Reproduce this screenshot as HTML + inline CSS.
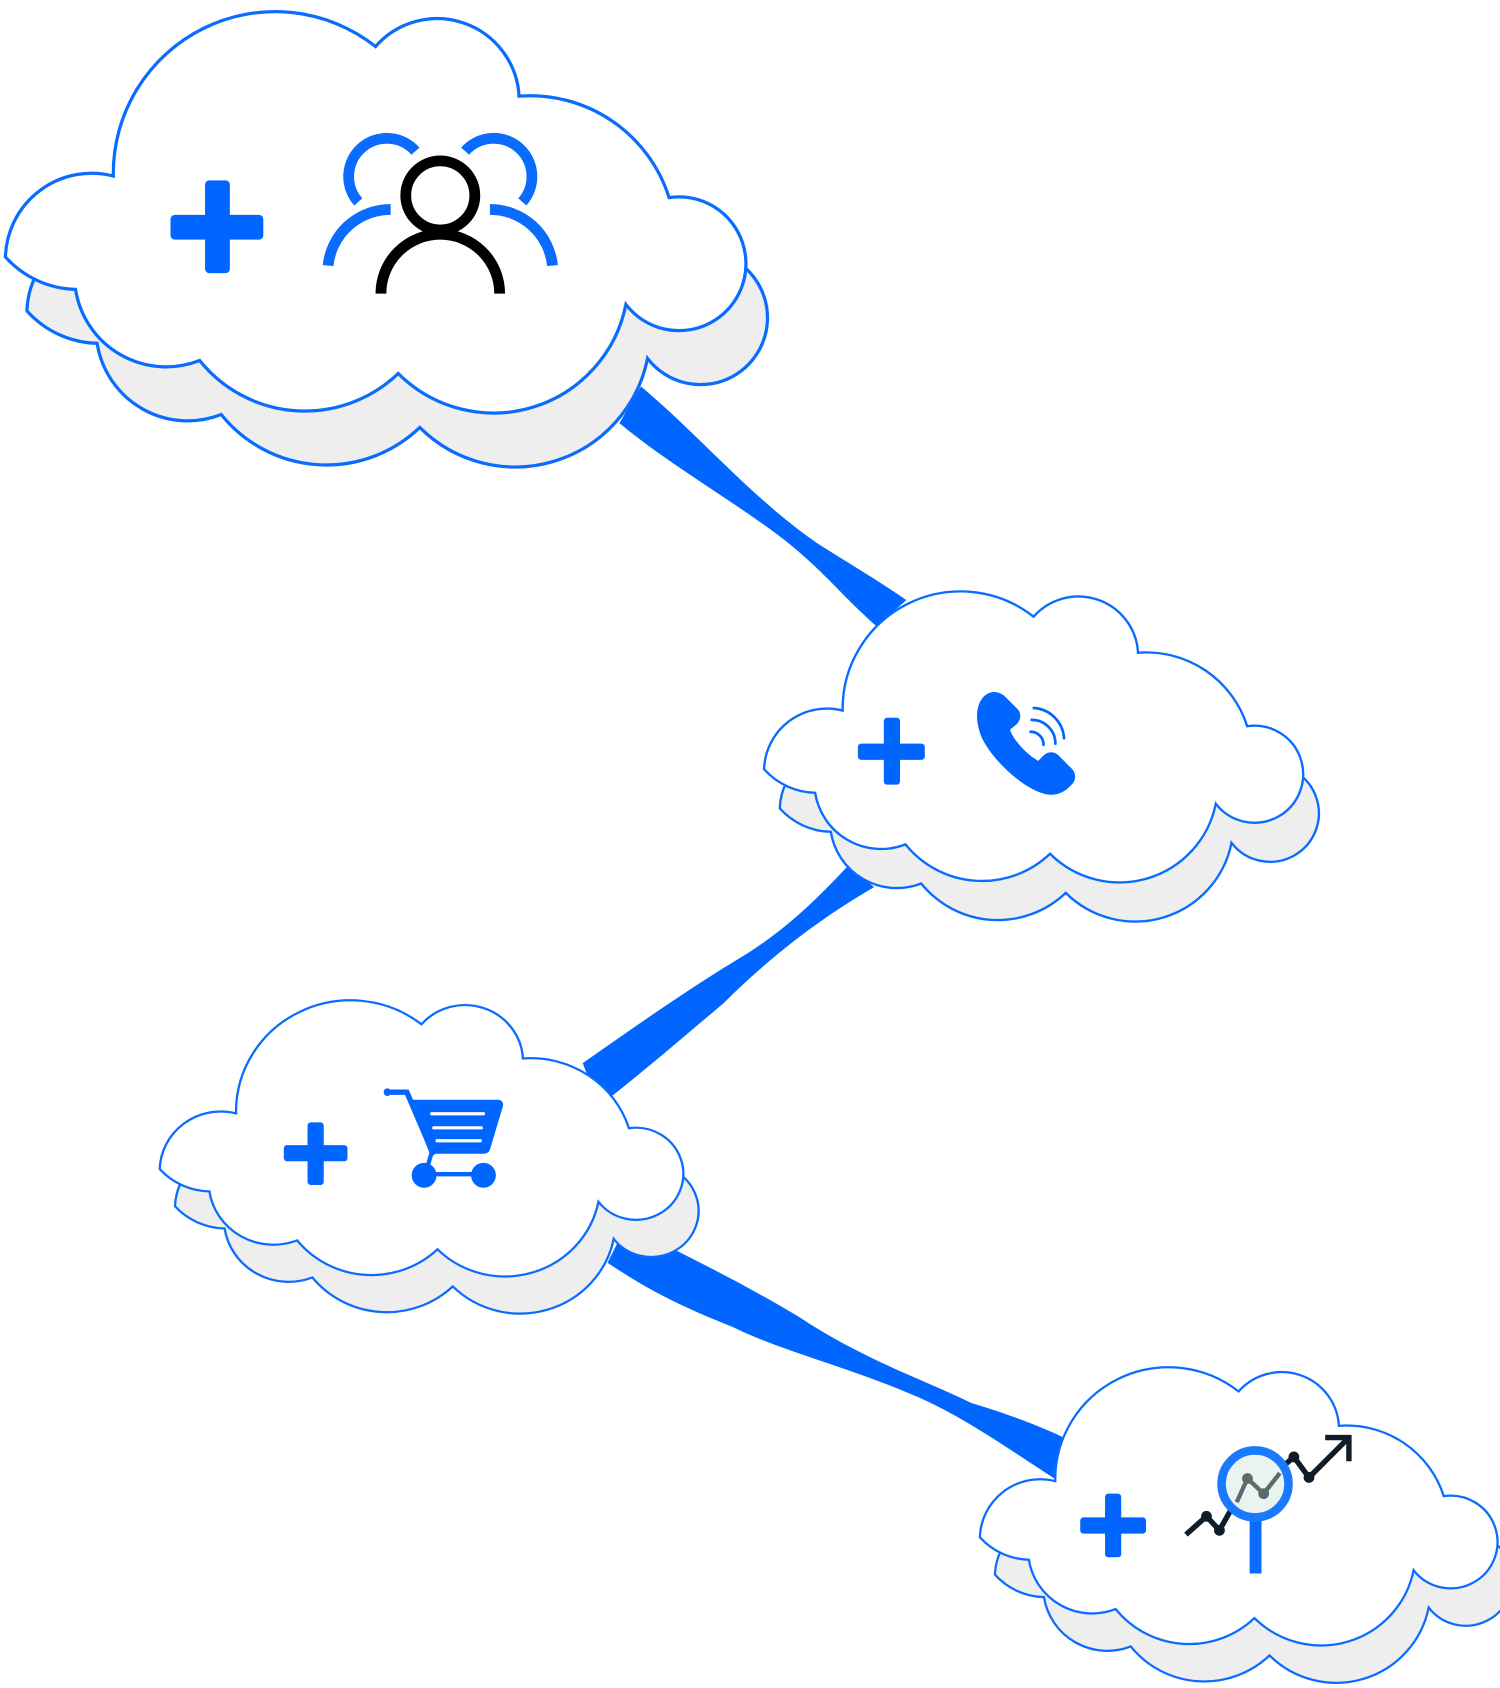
<!DOCTYPE html>
<html><head><meta charset="utf-8"><style>html,body{margin:0;padding:0;background:#fff}svg{display:block}</style></head>
<body>
<svg width="1500" height="1688" viewBox="0 0 1390 1564" xmlns="http://www.w3.org/2000/svg">
<defs>
<path id="cl" d="M105,163 A150,150 0 0 1 348,43 A76,76 0 0 1 481,89 A135,135 0 0 1 620,183 A62,62 0 1 1 580,282 A125,125 0 0 1 369,346 A125,125 0 0 1 185,334 A85,85 0 0 1 70,268 A90,90 0 0 1 5,238 A80,80 0 0 1 105,163 Z"/>
<g id="cloud">
<use href="#cl" transform="translate(20,50)" fill="#eeeeee" stroke="#0a6cff" stroke-width="3" vector-effect="non-scaling-stroke"/>
<use href="#cl" fill="#fff" stroke="#0a6cff" stroke-width="3" vector-effect="non-scaling-stroke"/>
</g>
</defs>
<g fill="#0066ff">
<path d="M594,358 C650,405 700,465 760,505 C800,530 820,542 840,556 L812,580 C780,552 760,525 720,495 C670,458 620,430 574,392 Z"/>
<path d="M786,802 C760,830 730,860 690,885 C640,915 590,950 540,985 L555,1025 C600,990 640,955 670,930 C720,880 770,845 810,822 Z"/>
<path d="M580,1136 C640,1165 690,1190 740,1220 C800,1260 860,1280 900,1300 C950,1315 985,1330 1010,1345 L985,1375 C930,1340 890,1310 840,1290 C780,1265 720,1250 680,1230 C630,1210 600,1195 563,1170 Z"/>
</g>
<use href="#cloud"/>
<use href="#cloud" transform="translate(704.4,540.2) scale(0.728,0.725)"/>
<use href="#cloud" transform="translate(144.5,919.5) scale(0.707,0.688)"/>
<use href="#cloud" transform="translate(904.5,1259.5) scale(0.699,0.693)"/>
<g fill="#0066ff">
<rect x="190" y="167" width="23" height="86" rx="4"/><rect x="158" y="199" width="86" height="23" rx="4"/>
<rect x="819" y="665" width="15" height="62" rx="3"/><rect x="795" y="689" width="62" height="15" rx="3"/>
<rect x="285" y="1040" width="15" height="58" rx="3"/><rect x="263" y="1061" width="59" height="15" rx="3"/>
<rect x="1024" y="1384" width="15" height="59" rx="3"/><rect x="1001" y="1406" width="61" height="15" rx="3"/>
</g>
<g fill="none" stroke-width="10">
<path d="M332,187 A30,30 0 1 1 385,140" stroke="#0a6cff"/>
<path d="M304,246 A58,58 0 0 1 362,194" stroke="#0a6cff"/>
<path d="M484,187 A30,30 0 1 0 431,140" stroke="#0a6cff"/>
<path d="M512,246 A58,58 0 0 0 454,194" stroke="#0a6cff"/>
<circle cx="408" cy="181" r="32" stroke="#000" fill="#fff"/>
<path d="M353,272 A55,55 0 0 1 463,272" stroke="#000"/>
</g>
<g fill="#0066ff">
<path d="M912,645 C920,638 928,642 932,646 L943,657 C947,661 946,668 941,672 L936,676 C938,684 950,698 962,705 L967,700 C971,696 977,696 981,700 L993,712 C998,717 997,724 992,728 C985,736 975,738 966,735 C945,728 920,704 910,684 C904,670 903,654 912,645 Z"/>
</g>
<g fill="none" stroke="#0066ff" stroke-width="2.5" stroke-linecap="round">
<path d="M955,678 A12,12 0 0 1 967,690"/>
<path d="M956,667 A22,22 0 0 1 978,689"/>
<path d="M958,656 A30,30 0 0 1 986,684"/>
</g>
<g fill="#0066ff" stroke="#0066ff">
<path d="M359,1012 L377,1012 L401,1068" fill="none" stroke-width="5" stroke-linecap="round"/>
<circle cx="359" cy="1012" r="3"/>
<path d="M380,1020 L462,1020 Q466,1021 465,1025 L453,1065 Q452,1068 448,1068 L399,1068 Z" stroke-width="2"/>
<path d="M400,1068 L394,1088 L448,1088" fill="none" stroke-width="4"/>
<circle cx="393" cy="1089" r="11"/><circle cx="448" cy="1089" r="11"/>
</g>
<g stroke="#fff" stroke-width="3" stroke-linecap="round">
<line x1="400" y1="1032" x2="448" y2="1032"/><line x1="402" y1="1045" x2="446" y2="1045"/><line x1="405" y1="1057" x2="445" y2="1057"/>
</g>
<rect x="1158" y="1408" width="11" height="50" fill="#0a6cff"/>
<g fill="none" stroke="#0f1d2a" stroke-width="5">
<polyline points="1099,1422 1118,1405 1130,1418 1148,1386"/>
<polyline points="1185,1362 1199,1350 1213,1369 1249,1333"/>
<polyline points="1228,1332 1250,1332 1250,1354"/>
</g>
<g fill="#0f1d2a"><circle cx="1118" cy="1405" r="5"/><circle cx="1130" cy="1418" r="5"/><circle cx="1199" cy="1350" r="5"/><circle cx="1213" cy="1369" r="5"/></g>
<circle cx="1163" cy="1375" r="31" fill="#e9f3ef" stroke="#1a7aff" stroke-width="8"/>
<polyline points="1146,1392 1156,1370 1171,1384 1186,1365" fill="none" stroke="#5a6b6b" stroke-width="4"/>
<circle cx="1156" cy="1370" r="5" fill="#5a6b6b"/><circle cx="1171" cy="1384" r="5" fill="#5a6b6b"/>
</svg>
</body></html>
